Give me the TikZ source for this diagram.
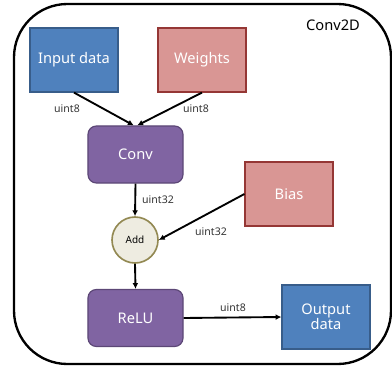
\documentclass[tikz,border=0pt]{standalone}
\usepackage{fontspec}
\setmainfont{Noto Sans}
\usepackage{tikz}
\usetikzlibrary{arrows.meta}
\definecolor{inblue}{HTML}{4F81BD}
\definecolor{inblueline}{HTML}{385D8A}
\definecolor{wpink}{HTML}{D99694}
\definecolor{wpinkline}{HTML}{953735}
\definecolor{oppurple}{HTML}{8064A2}
\definecolor{oppurpleline}{HTML}{5C4776}
\definecolor{addfill}{HTML}{EEECE1}
\definecolor{addline}{HTML}{938953}

\begin{document}
\begin{tikzpicture}[x=0.03cm,y=-0.03cm,
  databox/.style={draw, line width=1pt, minimum width=2.64cm, minimum height=1.92cm,
    text=white, align=center, font=\fontsize{12.5}{15}\selectfont},
  opbox/.style={draw=oppurpleline, fill=oppurple, line width=1pt, rounded corners=0.25cm,
    minimum width=2.85cm, minimum height=1.71cm, text=white, font=\fontsize{12.5}{15}\selectfont},
  typelabel/.style={font=\fontsize{9}{11}\selectfont, text=black!80},
  flow/.style={line width=1.6pt, -{Latex[length=5pt,width=5pt]}}]
\useasboundingbox (0,0) rectangle (392,366);
\draw[line width=2pt, rounded corners=1.6cm] (14,4) rectangle (391,364);
\node[font=\fontsize{12.5}{15}\selectfont] (title) at (333,25) {Conv2D};

\node[databox, fill=inblue, draw=inblueline] (input) at (74,60) {Input data};
\node[databox, fill=wpink, draw=wpinkline] (weights) at (202,60) {Weights};
\node[opbox] (conv) at (135.5,154.5) {Conv};
\node[databox, fill=wpink, draw=wpinkline] (bias) at (289,194) {Bias};
\node[circle, draw=addline, fill=addfill, line width=1.4pt, minimum size=1.38cm,
  font=\fontsize{8.5}{10}\selectfont] (add) at (135,240) {Add};
\node[opbox] (relu) at (135.5,318) {ReLU};
\node[databox, fill=inblue, draw=inblueline] (output) at (326,317) {Output\\[-2pt]data};

\node[typelabel] (t1) at (67,109) {uint8};
\node[typelabel] (t2) at (196,109) {uint8};
\node[typelabel] (t3) at (158,200) {uint32};
\node[typelabel] (t4) at (211,232) {uint32};
\node[typelabel] (t5) at (233,308) {uint8};

\draw[flow] (input.south) -- ([xshift=-1.5pt]conv.north);
\draw[flow] (weights.south) -- ([xshift=1.5pt]conv.north);
\draw[flow] (conv.south) -- (add.north);
\draw[flow] (bias.west) -- (add.east);
\draw[flow] (add.south) -- (relu.north);
\draw[flow] (relu.east) -- (output.west);
\end{tikzpicture}
\end{document}
